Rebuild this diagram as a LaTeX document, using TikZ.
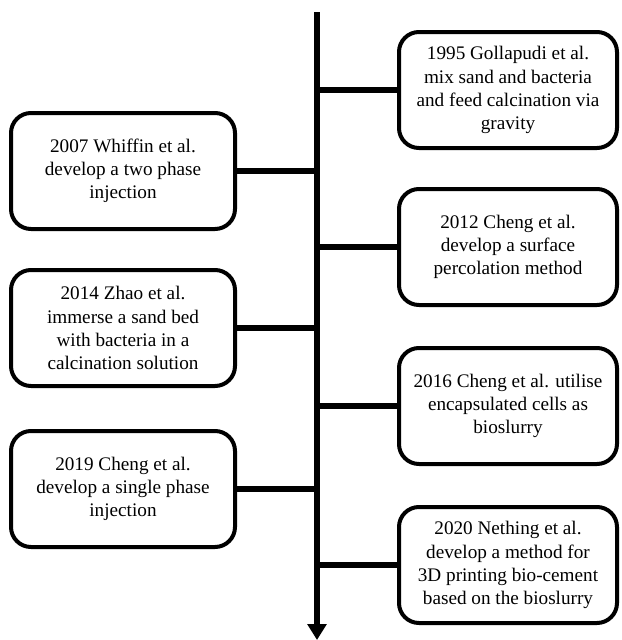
\documentclass[tikz,border=0pt]{standalone}
\usepackage{fontspec}
\setmainfont{Liberation Serif}
\newfontfamily\boxfont{Liberation Serif}
\usetikzlibrary{arrows.meta}

\begin{document}
\begin{tikzpicture}[x=0.75pt,y=-0.75pt,
   box/.style={draw,line width=3pt,rounded corners=15pt,minimum height=87pt,
      align=center,inner sep=0pt,font=\boxfont\fontsize{14.4pt}{17.3pt}\selectfont},
   lbox/.style={box,minimum width=168pt},
   rbox/.style={box,minimum width=163.5pt},
   link/.style={line width=4.5pt}]
   \useasboundingbox (0,0) rectangle (622,640);
   \coordinate (top) at (317,12);
   \coordinate (bot) at (317,640);

   \node[rbox] (y1995) at (508,90)  {1995 Gollapudi et al.\\mix sand and bacteria\\and feed calcination via\\gravity};
   \node[lbox] (y2007) at (123,171) {2007 Whiffin et al.\\develop a two phase\\injection};
   \node[rbox] (y2012) at (508,247) {2012 Cheng et al.\\develop a surface\\percolation method};
   \node[lbox] (y2014) at (123,328) {2014 Zhao et al.\\immerse a sand bed\\with bacteria in a\\calcination solution};
   \node[rbox] (y2016) at (508,406) {2016 Cheng et al. utilise\\encapsulated cells as\\bioslurry};
   \node[lbox] (y2019) at (123,489) {2019 Cheng et al.\\develop a single phase\\injection};
   \node[rbox] (y2020) at (508,565) {2020 Nething et al.\\develop a method for\\3D printing bio-cement\\based on the bioslurry};

   \draw[line width=4pt,-{Triangle[width=14pt,length=12pt]}] (top) -- (bot);

   \draw[link] (y1995) -- (y1995 -| top);
   \draw[link] (y2007) -- (y2007 -| top);
   \draw[link] (y2012) -- (y2012 -| top);
   \draw[link] (y2014) -- (y2014 -| top);
   \draw[link] (y2016) -- (y2016 -| top);
   \draw[link] (y2019) -- (y2019 -| top);
   \draw[link] (y2020) -- (y2020 -| top);

\end{tikzpicture}
\end{document}
